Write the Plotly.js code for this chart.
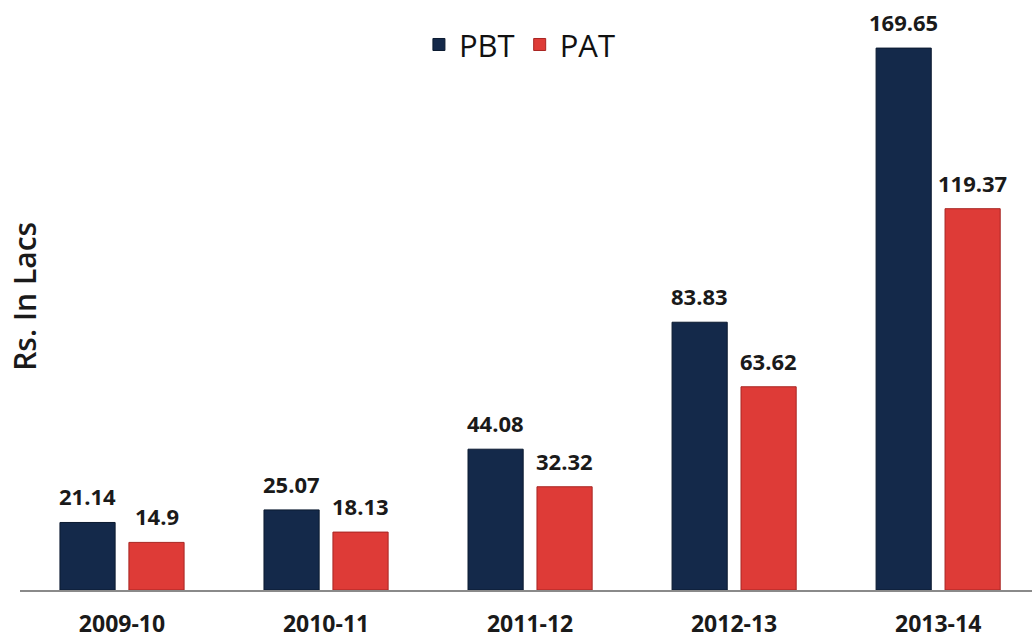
<!DOCTYPE html>
<html>
<head>
<meta charset="utf-8">
<script src="https://cdn.plot.ly/plotly-3.0.1.min.js"></script>
<style>html,body{margin:0;padding:0;background:#fff;}#chart{width:1032px;height:642px;}</style>
</head>
<body>
<div id="chart"></div>
<script>
const categories = ["2009-10", "2010-11", "2011-12", "2012-13", "2013-14"];
const pbtValues = [21.14, 25.07, 44.08, 83.83, 169.65];
const patValues = [14.9, 18.13, 32.32, 63.62, 119.37];
const seriesNames = ["PBT", "PAT"];
const yTitle = "Rs. In Lacs";

const BARGAP = 0.324;
const slot = (1 - BARGAP) / 2;

const labelFont = {family: "Open Sans, sans-serif", size: 22, color: "#1a1a1a", weight: 700};
const annotations = [];
[pbtValues, patValues].forEach((vals, s) => {
  vals.forEach((v, i) => {
    annotations.push({
      x: i + (s === 0 ? -slot / 2 : slot / 2),
      y: v, xref: "x", yref: "y",
      text: String(v), showarrow: false,
      yanchor: "bottom", xanchor: "center", yshift: 9,
      font: labelFont
    });
  });
});
annotations.push({
  xref: "paper", yref: "paper", x: 0.005, y: 0.497,
  text: yTitle, textangle: -90, showarrow: false,
  xanchor: "center", yanchor: "middle",
  font: {family: "Open Sans, sans-serif", size: 30, color: "#1a1a1a", weight: 600}
});

const data = [
  {type: "bar", name: seriesNames[0], x: categories.map((c, i) => i), y: pbtValues,
   marker: {color: "#14294a", line: {color: "#0b1a30", width: 1}}},
  {type: "bar", name: seriesNames[1], x: categories.map((c, i) => i), y: patValues,
   marker: {color: "#de3b37", line: {color: "#a82522", width: 1}}}
];

const layout = {
  width: 1032, height: 642,
  margin: {l: 20, r: 0, t: 0, b: 52},
  paper_bgcolor: "#fff", plot_bgcolor: "#fff",
  barmode: "group", bargap: BARGAP, bargroupgap: 0.2,
  showlegend: true,
  legend: {orientation: "h", x: 0.494, xanchor: "center", y: 0.924, yanchor: "middle",
           font: {family: "Open Sans, sans-serif", size: 31, color: "#111"},
           bgcolor: "rgba(0,0,0,0)", itemwidth: 30, tracegroupgap: 0},
  xaxis: {type: "linear", range: [-0.5, 4.46], tickmode: "array",
          tickvals: categories.map((c, i) => i), ticktext: categories,
          showgrid: false, zeroline: false, showline: true, linecolor: "#8a8a8a", linewidth: 2,
          ticks: "", ticklabelstandoff: 12,
          tickfont: {family: "Open Sans, sans-serif", size: 23, color: "#1a1a1a", weight: 700}},
  yaxis: {range: [0, 184.7], visible: false, showgrid: false, zeroline: false},
  annotations: annotations
};

Plotly.newPlot("chart", data, layout, {displayModeBar: false, staticPlot: true});
</script>
</body>
</html>
